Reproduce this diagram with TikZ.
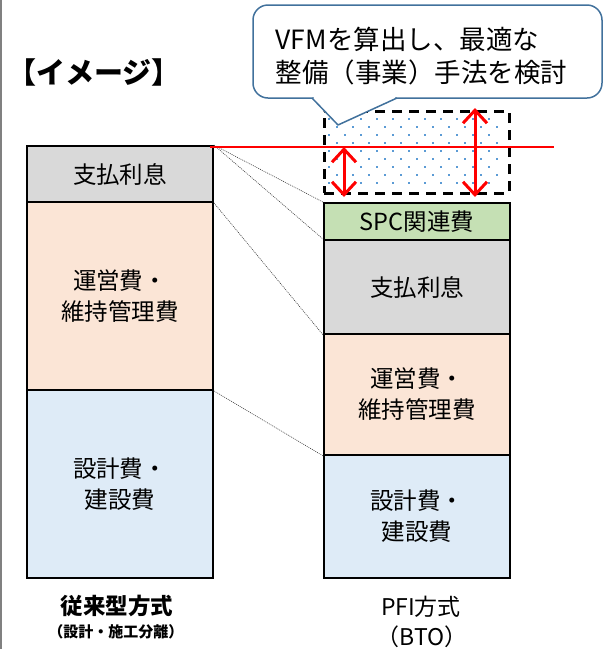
\documentclass[tikz,border=0pt]{standalone}
\usepackage{fontspec}
\setmainfont{Noto Sans CJK JP}
\usetikzlibrary{arrows.meta}
\definecolor{cgray}{HTML}{D9D9D9}
\definecolor{cpeach}{HTML}{FBE5D6}
\definecolor{cblue}{HTML}{DEEBF7}
\definecolor{cgreen}{HTML}{C5E0B4}
\definecolor{cline}{HTML}{41719C}
\definecolor{cdot}{HTML}{5B9BD5}
\begin{document}
\begin{tikzpicture}[x=1pt,y=-1pt,
  box/.style={draw=black, line width=1.8pt, minimum width=186pt, inner sep=0pt, align=center, font=\fontsize{23.5}{31}\selectfont},
  guide/.style={draw=black!75, line width=0.6pt, dash pattern=on 1pt off 1pt},
  redarrow/.style={draw=red, line width=3pt, {Straight Barb[length=13pt,width=24pt]}-{Straight Barb[length=13pt,width=24pt]}},
  callout/.style={draw=cline, line width=1.5pt, fill=white},
  lbl/.style={inner sep=0pt, align=center}
]
\useasboundingbox (0,0) rectangle (603,649);
\draw[gray, line width=1.5pt] (0.75,0) -- (0.75,649);

% title
\node[lbl, font=\fontsize{29}{32}\selectfont\bfseries] (title) at (94,72) {【イメージ】};

% left column
\node[box, fill=cgray, minimum height=56pt] (l1) at (120,174) {支払利息};
\node[box, fill=cpeach, minimum height=188pt] (l2) at (120,296) {運営費・\\維持管理費};
\node[box, fill=cblue, minimum height=188pt] (l3) at (120,484) {設計費・\\建設費};

% right column
\node[box, fill=cgreen, minimum height=37pt] (r0) at (417,221.5) {SPC関連費};
\node[box, fill=cgray, minimum height=94pt] (r1) at (417,287) {支払利息};
\node[box, fill=cpeach, minimum height=121pt] (r2) at (417,394.5) {運営費・\\維持管理費};
\node[box, fill=cblue, minimum height=123pt] (r3) at (417,516.5) {設計費・\\建設費};

% guide lines
\draw[guide] (l1.north east) -- (r0.north west);
\draw[guide] (l1.north east) -- (r1.north west);
\draw[guide] (l1.south east) -- (r1.south west);
\draw[guide] (l2.south east) -- (r2.south west);

% dashed VFM box with dots
\foreach \j in {0,...,8}{
  \pgfmathsetmacro{\yy}{119+8*\j}
  \pgfmathsetmacro{\xo}{mod(\j,2)==0 ? 329 : 337}
  \foreach \i in {0,...,10}{
    \fill[cdot] (\xo+16*\i-1,\yy-1) rectangle (\xo+16*\i+1,\yy+1);
  }
}
\node[draw=black, line width=3pt, dash pattern=on 10pt off 7pt, minimum width=185pt, minimum height=82pt, inner sep=0pt] (vfm) at (416.5,152) {};

% callout
\node[callout, rounded corners=15pt, minimum width=349pt, minimum height=93pt, inner sep=0pt] (cb) at (427.5,51.5) {};
\coordinate (t1) at (312,98);
\coordinate (tip) at (338,125);
\coordinate (t2) at (397,98);
\fill[white] (t1) -- (tip) -- (t2) -- cycle;
\fill[white] (314,96) rectangle (395,99.6);
\draw[cline, line width=1.5pt, line join=round] (t1) -- (tip) -- (t2);
\node[lbl, align=left, font=\fontsize{26.5}{33}\selectfont] (ct) at (421.5,56) {VFMを算出し、最適な\\整備（事業）手法を検討};

% red line and arrows
\coordinate (rl1) at (210,147);
\coordinate (rl2) at (554,147);
\draw[red, line width=2pt] (rl1) -- (rl2);
\coordinate (a1) at (344,147);
\coordinate (a2) at (344,197);
\coordinate (b1) at (475,108);
\coordinate (b2) at (475,197);
\draw[redarrow] (a1) -- (a2);
\draw[redarrow] (b1) -- (b2);

% bottom labels
\node[lbl, font=\fontsize{22.5}{24}\selectfont\bfseries] (cap1) at (117,606) {従来型方式};
\node[lbl, font=\fontsize{15}{17}\selectfont\bfseries] (cap1b) at (116,632) {（設計・施工分離）};
\node[lbl, font=\fontsize{23}{24}\selectfont] (cap2) at (421,607) {PFI方式};
\node[lbl, font=\fontsize{23}{24}\selectfont] (cap2b) at (422,637) {（BTO）};
\end{tikzpicture}
\end{document}
